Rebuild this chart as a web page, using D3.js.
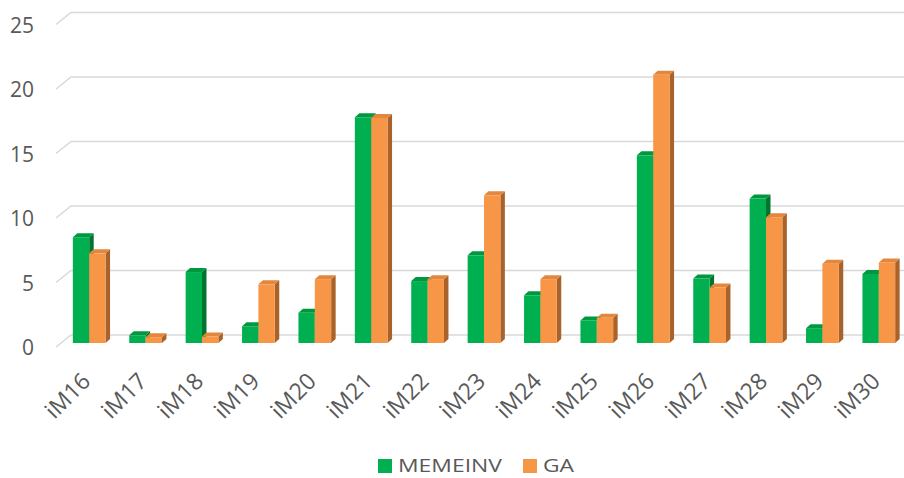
<!DOCTYPE html>
<html>
<head>
<meta charset="utf-8">
<script src="https://cdn.jsdelivr.net/npm/d3@7"></script>
<style>
  html, body { margin: 0; padding: 0; background: #ffffff; }
  svg { display: block; }
  text { font-family: "Open Sans", "Liberation Sans", sans-serif; fill: #595959; }
</style>
</head>
<body>
<svg id="chart" width="904" height="478"></svg>
<script>
// Categories and series values
const categories = ["iM16", "iM17", "iM18", "iM19", "iM20", "iM21", "iM22", "iM23",
                    "iM24", "iM25", "iM26", "iM27", "iM28", "iM29", "iM30"];
const memeinv = [8.2, 0.6, 5.5, 1.3, 2.35, 17.5, 4.8, 6.8, 3.7, 1.75, 14.55, 5.0, 11.2, 1.15, 5.35];
const ga      = [6.95, 0.45, 0.5, 4.55, 4.95, 17.45, 4.95, 11.45, 4.95, 1.95, 20.8, 4.3, 9.75, 6.15, 6.25];
const seriesNames = ["MEMEINV", "GA"];
const yTicks = [0, 5, 10, 15, 20, 25];

const series = [
  { name: seriesNames[0], values: memeinv, front: "#00B050", top: "#00983F", side: "#00752F" },
  { name: seriesNames[1], values: ga,      front: "#F79646", top: "#E4863C", side: "#A8622A" }
];

const svg = d3.select("#chart");
const W = 904;

// Depth of the floor (front edge to back wall) and of each bar
const floorDepth = { dx: 15, dy: -12 };
const barDepth = { dx: 4.5, dy: -4 };
// Bars stand one third of the way back from the front edge
const barOffset = { dx: floorDepth.dx / 3, dy: floorDepth.dy / 3 };

const baseY = 343;   // bottom of the bar front faces
const y = d3.scaleLinear().domain([0, 25]).range([baseY, baseY - 25 * 12.9]);

const x = d3.scaleBand().domain(categories).range([61, 907])
  .paddingInner(0.42).paddingOuter(0.21);
const xs = d3.scaleBand().domain(seriesNames).range([0, x.bandwidth()]);

// Gridlines on the back wall with the short diagonal along the side wall
const frontLeft = x.range()[0] - barOffset.dx;
const grid = svg.append("g");
yTicks.forEach(v => {
  const yFront = y(v) - barOffset.dy;
  const yBack = yFront + floorDepth.dy;
  const xBack = frontLeft + floorDepth.dx;
  grid.append("path")
    .attr("d", `M${frontLeft},${yFront}L${xBack},${yBack}L${W + 5},${yBack}`)
    .attr("fill", "none")
    .attr("stroke", "#D9D9D9")
    .attr("stroke-width", 1.6);
});

// Value axis labels
const yAxis = d3.axisLeft(y).tickValues(yTicks).tickSize(0).tickPadding(0);
const yAxisG = svg.append("g")
  .attr("transform", `translate(34,${-barOffset.dy})`)
  .call(yAxis);
yAxisG.select(".domain").remove();
yAxisG.selectAll("text")
  .attr("font-size", 21)
  .attr("fill", "#595959")
  .style("font-family", "'Open Sans', 'Liberation Sans', sans-serif")
  .attr("dy", "0.36em");

// 3D bars: front face, top face and right side face
const bars = svg.append("g");
categories.forEach((c, i) => {
  series.forEach(s => {
    const v = s.values[i];
    const x0 = x(c) + xs(s.name);
    const w = xs.bandwidth();
    const yt = y(v);
    const g = bars.append("g");
    g.append("path")
      .attr("d", `M${x0 + w},${yt}L${x0 + w + barDepth.dx},${yt + barDepth.dy}` +
                 `L${x0 + w + barDepth.dx},${baseY + barDepth.dy}L${x0 + w},${baseY}Z`)
      .attr("fill", s.side);
    g.append("path")
      .attr("d", `M${x0},${yt}L${x0 + barDepth.dx},${yt + barDepth.dy}` +
                 `L${x0 + w + barDepth.dx},${yt + barDepth.dy}L${x0 + w},${yt}Z`)
      .attr("fill", s.top);
    g.append("rect")
      .attr("x", x0).attr("y", yt)
      .attr("width", w).attr("height", baseY - yt)
      .attr("fill", s.front);
  });
});

// Category labels, rotated
const xAxis = d3.axisBottom(x).tickSize(0).tickPadding(0);
const xAxisG = svg.append("g")
  .attr("transform", `translate(0,${baseY})`)
  .call(xAxis);
xAxisG.select(".domain").remove();
xAxisG.selectAll(".tick text")
  .attr("font-size", 23)
  .attr("fill", "#595959")
  .style("font-family", "'Open Sans', 'Liberation Sans', sans-serif")
  .attr("text-anchor", "end")
  .attr("dy", "0.35em")
  .attr("transform", "translate(-3,34) rotate(-45)");

// Legend
const legend = svg.append("g");
const legendItems = [
  { name: seriesNames[0], color: series[0].front, x: 378, len: 104 },
  { name: seriesNames[1], color: series[1].front, x: 523, len: 31 }
];
legendItems.forEach(d => {
  legend.append("rect")
    .attr("x", d.x).attr("y", 459).attr("width", 14).attr("height", 14)
    .attr("fill", d.color);
  legend.append("text")
    .attr("x", d.x + 20).attr("y", 472)
    .attr("font-size", 19)
    .attr("textLength", d.len)
    .attr("lengthAdjust", "spacingAndGlyphs")
    .text(d.name);
});
</script>
</body>
</html>
